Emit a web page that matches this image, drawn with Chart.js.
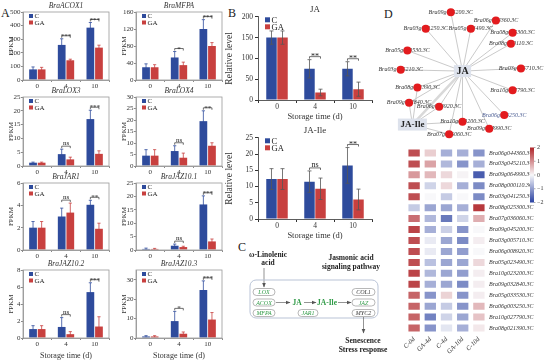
<!DOCTYPE html>
<html>
<head>
<meta charset="utf-8">
<script src="https://cdn.jsdelivr.net/npm/chart.js@4.4.1/dist/chart.umd.min.js"></script>
<style>
  html, body { margin: 0; padding: 0; background: #fff; }
  #page { position: relative; width: 550px; height: 360px; overflow: hidden; font-family: 'Liberation Serif', serif; }
  canvas, svg { position: absolute; }
  .tag { position: absolute; font-size: 12px; line-height: 12px; color: #222; }
</style>
</head>
<body>
<div id="page">
  <div class="tag" style="left:1px;top:7px">A</div>
  <div class="tag" style="left:228px;top:7px">B</div>
  <div class="tag" style="left:238px;top:241px">C</div>
  <div class="tag" style="left:384px;top:8px">D</div>

  <canvas id="acox1" style="left:7px;top:1px" width="104" height="89"></canvas>
  <canvas id="mfpa" style="left:120px;top:1px" width="104" height="89"></canvas>
  <canvas id="lox3" style="left:7px;top:86px" width="104" height="90"></canvas>
  <canvas id="lox4" style="left:120px;top:86px" width="104" height="90"></canvas>
  <canvas id="jar1" style="left:7px;top:172px" width="104" height="88"></canvas>
  <canvas id="jaz101" style="left:120px;top:172px" width="104" height="88"></canvas>
  <canvas id="jaz102" style="left:7px;top:259px" width="104" height="102"></canvas>
  <canvas id="jaz103" style="left:120px;top:259px" width="104" height="102"></canvas>

  <canvas id="ja" style="left:224px;top:0px" width="150" height="122"></canvas>
  <canvas id="jaIle" style="left:224px;top:121px" width="150" height="120"></canvas>

  <svg id="pathway" style="left:240px;top:240px" width="150" height="120" viewBox="240 240 150 120"
       font-family="'Liberation Serif', serif">
    <defs>
      <marker id="ah" markerWidth="5" markerHeight="5" refX="4.5" refY="2.5" orient="auto" markerUnits="userSpaceOnUse">
        <path d="M0,0.5 L5,2.5 L0,4.5 z" fill="#555"/>
      </marker>
    </defs>
    <text x="268" y="257" font-size="7.5" font-weight="bold" text-anchor="middle" fill="#222">ω-Linolenic</text>
    <text x="268" y="265" font-size="7.5" font-weight="bold" text-anchor="middle" fill="#222">acid</text>
    <text x="351" y="260" font-size="7.5" font-weight="bold" text-anchor="middle" fill="#222">Jasmonic acid</text>
    <text x="351" y="269" font-size="7.5" font-weight="bold" text-anchor="middle" fill="#222">signaling pathway</text>
    <line x1="264" y1="268" x2="264" y2="287" stroke="#666" stroke-width="0.7" marker-end="url(#ah)"/>
    <rect x="250" y="280" width="128" height="38" rx="6" fill="none" stroke="#b9c3d6" stroke-width="1"/>
    <g font-size="6" font-style="italic" text-anchor="middle">
      <rect x="253" y="288.5" width="22" height="7" rx="3.5" fill="#fff" stroke="#888" stroke-width="0.6"/>
      <text x="264" y="294.2" fill="#2f9a46">LOX</text>
      <rect x="253" y="299" width="22" height="7" rx="3.5" fill="#fff" stroke="#888" stroke-width="0.6"/>
      <text x="264" y="304.7" fill="#2f9a46">ACOX</text>
      <rect x="253" y="309.5" width="22" height="7" rx="3.5" fill="#fff" stroke="#888" stroke-width="0.6"/>
      <text x="264" y="315.2" fill="#2f9a46">MFPA</text>
      <rect x="298" y="309.5" width="20" height="7" rx="3.5" fill="#fff" stroke="#888" stroke-width="0.6"/>
      <text x="308" y="315.2" fill="#2f9a46">JAR1</text>
      <rect x="352" y="288.5" width="23" height="7" rx="3.5" fill="#fff" stroke="#888" stroke-width="0.6"/>
      <text x="363.5" y="294.2" fill="#333">COL1</text>
      <rect x="352" y="299" width="23" height="7" rx="3.5" fill="#fff" stroke="#888" stroke-width="0.6"/>
      <text x="363.5" y="304.7" fill="#2f9a46">JAZ</text>
      <rect x="352" y="309.5" width="23" height="7" rx="3.5" fill="#fff" stroke="#888" stroke-width="0.6"/>
      <text x="363.5" y="315.2" fill="#333">MYC2</text>
    </g>
    <line x1="276" y1="302.5" x2="290" y2="302.5" stroke="#666" stroke-width="0.7" marker-end="url(#ah)"/>
    <text x="297" y="305" font-size="7.5" font-weight="bold" text-anchor="middle" fill="#2f9a46">JA</text>
    <line x1="304" y1="302.5" x2="316" y2="302.5" stroke="#666" stroke-width="0.7" marker-end="url(#ah)"/>
    <text x="327" y="305" font-size="7.5" font-weight="bold" text-anchor="middle" fill="#2f9a46">JA-Ile</text>
    <line x1="338" y1="302.5" x2="351" y2="302.5" stroke="#666" stroke-width="0.7" marker-end="url(#ah)"/>
    <line x1="363.5" y1="317" x2="363.5" y2="333" stroke="#666" stroke-width="0.7" marker-end="url(#ah)"/>
    <text x="363" y="343" font-size="7.5" font-weight="bold" text-anchor="middle" fill="#222">Senescence</text>
    <text x="363" y="352" font-size="7.5" font-weight="bold" text-anchor="middle" fill="#222">Stress response</text>
  </svg>

  <canvas id="network" style="left:375px;top:0px" width="175" height="145"></canvas>
  <canvas id="heatmap" style="left:398px;top:140px" width="152" height="220"></canvas>
</div>

<script>
// ---------- data ----------
const storageDays = ['0', '4', '10'];

// panel A (FPKM, mean and SD)
const acox1Ticks = [0, 100, 200, 300, 400, 500];
const acox1C = [78, 258, 385];
const acox1CErr = [18, 45, 38];
const acox1GA = [78, 145, 238];
const acox1GAErr = [15, 8, 18];
const acox1Sig = ['', '***', '***'];

const mfpaTicks = [0, 40, 80, 120, 160];
const mfpaC = [30, 53, 120];
const mfpaCErr = [8, 14, 22];
const mfpaGA = [30, 35, 80];
const mfpaGAErr = [6, 7, 8];
const mfpaSig = ['', '*', '***'];

const lox3Ticks = [0, 5, 10, 15, 20, 25];
const lox3C = [1.2, 4.3, 17];
const lox3CErr = [0.2, 1.8, 3.2];
const lox3GA = [1.2, 2.4, 4.4];
const lox3GAErr = [0.2, 0.8, 1.1];
const lox3Sig = ['', 'ns', '***'];

const lox4Ticks = [0, 5, 10, 15, 20, 25, 30];
const lox4C = [4.5, 6.5, 19.5];
const lox4CErr = [2.6, 2.3, 4.5];
const lox4GA = [4.5, 3.6, 8.8];
const lox4GAErr = [2.6, 2, 1.3];
const lox4Sig = ['', 'ns', '**'];

const jar1Ticks = [0, 2, 4, 6];
const jar1C = [2, 3, 4.05];
const jar1CErr = [0.55, 0.75, 0.4];
const jar1GA = [2, 3.35, 1.9];
const jar1GAErr = [0.55, 0.85, 0.5];
const jar1Sig = ['', 'ns', '**'];

const jaz101Ticks = [0, 5, 10, 15, 20, 25];
const jaz101C = [0.4, 1.6, 17];
const jaz101CErr = [0.3, 0.6, 3.2];
const jaz101GA = [0.4, 1.1, 3.2];
const jaz101GAErr = [0.2, 0.3, 0.9];
const jaz101Sig = ['', 'ns', '***'];

const jaz102Ticks = [0, 2, 4, 6, 8];
const jaz102C = [1.05, 1.3, 5.4];
const jaz102CErr = [0.4, 1.1, 1.1];
const jaz102GA = [1.05, 0.45, 1.35];
const jaz102GAErr = [0.4, 0.3, 1.15];
const jaz102Sig = ['', 'ns', '***'];

const jaz103Ticks = [0, 5, 10, 15, 20, 25, 30, 35];
const jaz103C = [0.8, 8.7, 24.7];
const jaz103CErr = [0.4, 5, 4.7];
const jaz103GA = [0.8, 2.2, 9.5];
const jaz103GAErr = [0.4, 0.9, 3.6];
const jaz103Sig = ['', '*', '***'];

// panel B (relative level)
const jaTicks = [0, 50, 100, 150, 200];
const jaC = [150, 75, 75];
const jaCErr = [16, 22, 17];
const jaGA = [150, 18, 26];
const jaGAErr = [16, 8, 17];
const jaSig = ['', '**', '**'];

const jaIleTicks = [0, 5, 10, 15, 20, 25];
const jaIleC = [12.3, 11.5, 16.5];
const jaIleCErr = [3.2, 3.3, 5.5];
const jaIleGA = [12.3, 9.3, 6];
const jaIleGAErr = [3.2, 3.3, 3.2];
const jaIleSig = ['', 'ns', '**'];

// panel D network (layout units 0-100)
const netNames = ['Bra09g045200.3C', 'Bra06g044360.3C', 'Bra03g041250.3C', 'Bra05g023490.3C',
  'Bra08g025300.3C', 'Bra08g000110.3C', 'Bra05g033530.3C', 'Bra03g045210.3C', 'Bra03g005710.3C',
  'Bra08g021390.3C', 'Bra10g027790.3C', 'Bra09g032840.3C', 'Bra06g008920.3C', 'Bra06g003250.3C',
  'Bra10g023200.3C', 'Bra09g064990.3C', 'Bra07g036060.3C'];
const netX = [43, 70, 28, 55, 80, 79, 17, 13, 85, 23, 80, 18, 36, 75, 50, 66, 42];
const netY = [6, 12, 18, 18, 21, 29, 34, 48, 47, 61, 63, 72, 75, 81, 86, 91, 95];
const hubNames = ['JA', 'JA-Ile'];
const hubX = [50, 20];
const hubY = [49, 88];
const jaIleLinks = [9, 11, 12, 14, 16];

// panel D heatmap (row z-scores)
const hmGenes = ['Bra06g044360.3C', 'Bra03g045210.3C', 'Bra09g064990.3C', 'Bra08g000110.3C',
  'Bra03g041250.3C', 'Bra08g025300.3C', 'Bra07g036060.3C', 'Bra09g045200.3C', 'Bra03g005710.3C',
  'Bra06g008920.3C', 'Bra05g023490.3C', 'Bra10g023200.3C', 'Bra09g032840.3C', 'Bra05g033530.3C',
  'Bra06g003250.3C', 'Bra10g027790.3C', 'Bra08g021390.3C'];
const hmColumns = ['C-0d', 'GA-4d', 'C-4d', 'GA-10d', 'C-10d'];
const hmC0 = [1.6, 1.6, 0.9, 1.6, 1.6, -0.5, 1.3, 1.7, 1.6, 1.6, 1.6, 1.7, 1.7, 1.4, 1.4, 1.4, 1.4];
const hmGA4 = [0.4, 0.8, 0.6, -0.4, 0.0, -0.9, -0.7, -0.8, -0.15, -0.15, -0.6, -0.7, -0.8, -1.1, -0.9, -1.3, -1.1];
const hmC4 = [-0.8, -0.7, 0.3, 0.3, -0.5, -0.9, -1.4, -0.45, -0.9, -0.9, -0.9, -0.9, -0.9, 0.35, -0.5, -0.4, -0.2];
const hmGA10 = [-0.8, -1.1, 0.05, -0.8, 0.0, -0.8, -0.4, -1.1, -1.2, -1.0, -0.9, -1.0, -1.2, -1.1, -1.1, -0.9, -0.8];
const hmC10 = [-1.1, -0.8, -1.7, -1.2, -1.2, 1.8, 0.7, 0.0, 0.1, 0.0, 0.3, 0.1, 0.1, 0.1, 0.6, 0.5, 0.15];
const colorbarTicks = [2, 1, 0, -1, -2];

// ---------- styles ----------
const serif = "'Liberation Serif', 'Times New Roman', serif";
const cBlue = '#2e4b9c';
const gaRed = '#c8403f';
Chart.defaults.font.family = serif;
Chart.defaults.color = '#333';

// error bars drawn from the dataset's err array
const errorBars = {
  id: 'errorBars',
  afterDatasetsDraw(chart, args, opts) {
    const ctx = chart.ctx;
    const y = chart.scales.y;
    chart.data.datasets.forEach((ds, di) => {
      chart.getDatasetMeta(di).data.forEach((bar, i) => {
        const v = ds.data[i], e = ds.err[i];
        const top = y.getPixelForValue(v + e);
        const bot = y.getPixelForValue(Math.max(0, v - e));
        ctx.save();
        ctx.strokeStyle = opts.color || ds.backgroundColor;
        ctx.lineWidth = opts.width;
        ctx.beginPath();
        ctx.moveTo(bar.x, top);
        ctx.lineTo(bar.x, bot);
        ctx.moveTo(bar.x - opts.cap, top);
        ctx.lineTo(bar.x + opts.cap, top);
        if (opts.color) {
          ctx.moveTo(bar.x - opts.cap, bot);
          ctx.lineTo(bar.x + opts.cap, bot);
        }
        ctx.stroke();
        ctx.restore();
      });
    });
  }
};

// significance brackets
const sigMarks = {
  id: 'sigMarks',
  afterDatasetsDraw(chart, args, opts) {
    const ctx = chart.ctx, y = chart.scales.y;
    const [c, g] = chart.data.datasets;
    const mc = chart.getDatasetMeta(0).data, mg = chart.getDatasetMeta(1).data;
    opts.marks.forEach((s, i) => {
      if (!s) return;
      const peak = Math.max(c.data[i] + c.err[i], g.data[i] + g.err[i]);
      const ly = y.getPixelForValue(peak) - opts.gap;
      ctx.save();
      ctx.strokeStyle = '#333';
      ctx.lineWidth = 0.7;
      ctx.beginPath();
      ctx.moveTo(mc[i].x, ly + 2);
      ctx.lineTo(mc[i].x, ly);
      ctx.lineTo(mg[i].x, ly);
      ctx.lineTo(mg[i].x, ly + 2);
      ctx.stroke();
      ctx.fillStyle = '#222';
      ctx.font = opts.size + 'px ' + serif;
      ctx.textAlign = 'center';
      ctx.textBaseline = 'alphabetic';
      const mid = (mc[i].x + mg[i].x) / 2;
      ctx.fillText(s, mid, s === 'ns' ? ly - 1 : ly + opts.size * 0.3);
      ctx.restore();
    });
  }
};

// small C / GA key in the top-left of the plot
const miniLegend = {
  id: 'miniLegend',
  afterDraw(chart, args, opts) {
    const ctx = chart.ctx, a = chart.chartArea;
    chart.data.datasets.forEach((ds, i) => {
      const x = a.left + opts.dx, y = a.top + opts.dy + i * opts.row;
      ctx.save();
      ctx.fillStyle = ds.backgroundColor;
      ctx.fillRect(x, y - opts.box / 2, opts.box, opts.box);
      ctx.fillStyle = '#222';
      ctx.font = opts.size + 'px ' + serif;
      ctx.textBaseline = 'middle';
      ctx.fillText(ds.label, x + opts.box + 1.5, y + 0.5);
      ctx.restore();
    });
  }
};

// grey box round the plot (panel A)
const frame = {
  id: 'frame',
  afterDraw(chart, args, opts) {
    if (!opts.show) return;
    const ctx = chart.ctx, a = chart.chartArea;
    ctx.save();
    ctx.strokeStyle = '#9a9a9a';
    ctx.lineWidth = 0.8;
    ctx.strokeRect(a.left, a.top, a.right - a.left, a.bottom - a.top);
    ctx.restore();
  }
};

function barChart(id, title, ticks, cVals, cErr, gaVals, gaErr, sig, look) {
  const el = document.getElementById(id);
  const axisGray = look.panelA ? '#8a8a8a' : '#333';
  return new Chart(el.getContext('2d'), {
    type: 'bar',
    data: {
      labels: storageDays,
      datasets: [
        { label: 'C', data: cVals, err: cErr, backgroundColor: cBlue },
        { label: 'GA', data: gaVals, err: gaErr, backgroundColor: gaRed }
      ]
    },
    options: {
      responsive: false,
      animation: false,
      devicePixelRatio: 1,
      layout: { padding: { left: 0, right: 2, top: 0, bottom: 0 } },
      datasets: { bar: { categoryPercentage: look.cat, barPercentage: look.bar } },
      plugins: {
        legend: { display: false },
        tooltip: { enabled: false },
        title: {
          display: true,
          text: title,
          fullSize: false,
          color: '#333',
          font: { family: serif, size: look.titleSize, style: look.panelA ? 'italic' : 'normal', weight: 'normal' },
          padding: look.titlePad
        },
        errorBars: look.err,
        sigMarks: { marks: sig, gap: 3, size: look.sigSize },
        miniLegend: look.legend,
        frame: { show: look.panelA }
      },
      scales: {
        x: {
          grid: { display: true, drawOnChartArea: false, offset: true, tickLength: look.tick, color: axisGray },
          border: { display: true, color: axisGray, width: 0.8 },
          ticks: { font: { family: serif, size: look.tickSize }, color: '#333', padding: 0 },
          title: {
            display: look.xTitle,
            text: 'Storage time (d)',
            color: '#333',
            font: { family: serif, size: look.xTitleSize },
            padding: 0
          },
          afterFit: s => { s.height = look.xTitle ? look.xH2 : look.xH; }
        },
        y: {
          min: ticks[0],
          max: ticks[ticks.length - 1],
          ticks: { stepSize: ticks[1] - ticks[0], font: { family: serif, size: look.tickSize }, color: '#333', padding: look.yPad },
          grid: { display: true, drawOnChartArea: false, tickLength: look.tick, color: axisGray },
          border: { display: true, color: axisGray, width: 0.8 },
          title: {
            display: true,
            text: look.yTitle,
            color: '#333',
            font: { family: serif, size: look.yTitleSize },
            padding: 0
          },
          afterFit: s => { s.width = look.yW; }
        }
      }
    },
    plugins: [errorBars, sigMarks, miniLegend, frame]
  });
}

const lookA = {
  panelA: true, cat: 0.6, bar: 0.9, titleSize: 7.5, titlePad: { top: 1, bottom: 1 },
  tickSize: 7, tick: 2, yPad: 0.5, yW: 16, yTitle: 'FPKM', yTitleSize: 7,
  xTitle: false, xTitleSize: 8, xH: 10, xH2: 23, sigSize: 7,
  err: { width: 0.8, cap: 1.6 },
  legend: { dx: 6, dy: 4, row: 6.5, box: 4, size: 7 }
};
const lookA4 = Object.assign({}, lookA, { xTitle: true });
const lookB = {
  panelA: false, cat: 0.58, bar: 0.95, titleSize: 9, titlePad: { top: 4, bottom: 2 },
  tickSize: 7.5, tick: 3, yPad: 2, yW: 34, yTitle: 'Relative level', yTitleSize: 9.5,
  xTitle: true, xTitleSize: 8.5, xH: 22, xH2: 22, sigSize: 8,
  err: { width: 0.8, cap: 2, color: '#555' },
  legend: { dx: 7, dy: 3, row: 7, box: 5, size: 8.5 }
};

barChart('acox1', 'BraACOX1', acox1Ticks, acox1C, acox1CErr, acox1GA, acox1GAErr, acox1Sig, lookA);
barChart('mfpa', 'BraMFPA', mfpaTicks, mfpaC, mfpaCErr, mfpaGA, mfpaGAErr, mfpaSig, lookA);
barChart('lox3', 'BraLOX3', lox3Ticks, lox3C, lox3CErr, lox3GA, lox3GAErr, lox3Sig, lookA);
barChart('lox4', 'BraLOX4', lox4Ticks, lox4C, lox4CErr, lox4GA, lox4GAErr, lox4Sig, lookA);
barChart('jar1', 'BraJAR1', jar1Ticks, jar1C, jar1CErr, jar1GA, jar1GAErr, jar1Sig, lookA);
barChart('jaz101', 'BraJAZ10.1', jaz101Ticks, jaz101C, jaz101CErr, jaz101GA, jaz101GAErr, jaz101Sig, lookA);
barChart('jaz102', 'BraJAZ10.2', jaz102Ticks, jaz102C, jaz102CErr, jaz102GA, jaz102GAErr, jaz102Sig, lookA4);
barChart('jaz103', 'BraJAZ10.3', jaz103Ticks, jaz103C, jaz103CErr, jaz103GA, jaz103GAErr, jaz103Sig, lookA4);
barChart('ja', 'JA', jaTicks, jaC, jaCErr, jaGA, jaGAErr, jaSig, lookB);
barChart('jaIle', 'JA-Ile', jaIleTicks, jaIleC, jaIleCErr, jaIleGA, jaIleGAErr, jaIleSig, lookB);

// ---------- network ----------
const netDraw = {
  id: 'netDraw',
  beforeDatasetsDraw(chart) {
    const ctx = chart.ctx, sx = chart.scales.x, sy = chart.scales.y;
    const px = v => sx.getPixelForValue(v), py = v => sy.getPixelForValue(v);
    const jx = px(hubX[0]), jy = py(hubY[0]), ix = px(hubX[1]), iy = py(hubY[1]);
    ctx.save();
    ctx.strokeStyle = '#d9d9d9';
    ctx.lineWidth = 2.5;
    ctx.beginPath();
    ctx.moveTo(jx, jy);
    ctx.lineTo(ix, iy);
    ctx.stroke();
    ctx.strokeStyle = '#c4c4c4';
    ctx.lineWidth = 0.9;
    netX.forEach((x, i) => {
      ctx.beginPath();
      ctx.moveTo(jx, jy);
      ctx.lineTo(px(x), py(netY[i]));
      ctx.stroke();
    });
    jaIleLinks.forEach(i => {
      ctx.beginPath();
      ctx.moveTo(ix, iy);
      ctx.lineTo(px(netX[i]), py(netY[i]));
      ctx.stroke();
    });
    ctx.font = 'italic 6px ' + serif;
    ctx.textAlign = 'center';
    ctx.textBaseline = 'middle';
    netNames.forEach((n, i) => {
      ctx.fillStyle = n === 'Bra06g003250.3C' ? '#4b5d93' : '#333';
      ctx.fillText(n, px(netX[i]), py(netY[i]));
    });
    ctx.restore();
  },
  afterDatasetsDraw(chart) {
    const ctx = chart.ctx, sx = chart.scales.x, sy = chart.scales.y;
    ctx.save();
    ctx.textAlign = 'center';
    ctx.textBaseline = 'middle';
    hubNames.forEach((n, i) => {
      const x = sx.getPixelForValue(hubX[i]), y = sy.getPixelForValue(hubY[i]);
      ctx.font = 'bold ' + (i ? 9 : 10) + 'px ' + serif;
      const w = ctx.measureText(n).width + 5;
      ctx.fillStyle = '#dde2ec';
      ctx.fillRect(x - w / 2, y - 6, w, 12);
      ctx.fillStyle = '#222';
      ctx.fillText(n, x, y + 0.5);
    });
    ctx.restore();
  }
};

new Chart(document.getElementById('network').getContext('2d'), {
  type: 'scatter',
  data: {
    datasets: [{
      data: netX.map((x, i) => ({ x: x, y: netY[i] })),
      backgroundColor: '#e31b1e',
      borderWidth: 0,
      pointRadius: 4
    }]
  },
  options: {
    responsive: false,
    animation: false,
    devicePixelRatio: 1,
    layout: { padding: 0 },
    plugins: { legend: { display: false }, tooltip: { enabled: false } },
    scales: {
      x: { display: false, min: 0, max: 100 },
      y: { display: false, min: 0, max: 100, reverse: true }
    }
  },
  plugins: [netDraw]
});

// ---------- heatmap ----------
function heatColor(v) {
  const t = Math.min(Math.abs(v) / 2, 1);
  const end = v >= 0 ? [176, 36, 40] : [42, 66, 162];
  const mid = [248, 248, 250];
  const c = mid.map((m, k) => Math.round(m + (end[k] - m) * t));
  return 'rgb(' + c.join(',') + ')';
}

const colorBar = {
  id: 'colorBar',
  afterDraw(chart) {
    const ctx = chart.ctx, a = chart.chartArea;
    const left = a.right + 43, top = a.top, h = 55, w = 4;
    const g = ctx.createLinearGradient(0, top, 0, top + h);
    g.addColorStop(0, heatColor(2));
    g.addColorStop(0.5, heatColor(0));
    g.addColorStop(1, heatColor(-2));
    ctx.save();
    ctx.fillStyle = g;
    ctx.fillRect(left, top, w, h);
    ctx.font = '6px ' + serif;
    ctx.fillStyle = '#333';
    ctx.strokeStyle = '#555';
    ctx.lineWidth = 0.5;
    ctx.textBaseline = 'middle';
    colorbarTicks.forEach(t => {
      const y = top + (colorbarTicks[0] - t) / (colorbarTicks[0] - colorbarTicks[colorbarTicks.length - 1]) * h;
      ctx.beginPath();
      ctx.moveTo(left + w, y);
      ctx.lineTo(left + w + 1.5, y);
      ctx.stroke();
      ctx.fillText(t < 0 ? '\u2212' + Math.abs(t) : String(t), left + w + 3, y);
    });
    ctx.restore();
  }
};

const hmValues = [hmC0, hmGA4, hmC4, hmGA10, hmC10];
new Chart(document.getElementById('heatmap').getContext('2d'), {
  type: 'bar',
  data: {
    labels: hmGenes,
    datasets: hmValues.map((vals, c) => ({
      label: hmColumns[c],
      data: vals.map(() => [c + 0.15, c + 0.85]),
      backgroundColor: vals.map(heatColor),
      grouped: false,
      categoryPercentage: 0.64,
      barPercentage: 1
    }))
  },
  options: {
    indexAxis: 'y',
    responsive: false,
    animation: false,
    devicePixelRatio: 1,
    layout: { padding: { left: 8, top: 7.5, right: 0, bottom: 0 }, autoPadding: false },
    plugins: { legend: { display: false }, tooltip: { enabled: false } },
    scales: {
      x: {
        type: 'linear',
        min: 0,
        max: hmColumns.length,
        grid: { display: false, drawTicks: false },
        border: { display: false },
        afterBuildTicks: s => { s.ticks = hmColumns.map((_, c) => ({ value: c + 0.5 })); },
        ticks: {
          autoSkip: false,
          minRotation: 45,
          maxRotation: 45,
          padding: 2,
          color: '#333',
          font: { family: serif, size: 6.5, style: 'italic' },
          callback: (v, i) => hmColumns[i]
        },
        afterFit: s => { s.height = 26.5; }
      },
      y: {
        position: 'right',
        grid: { display: false, drawTicks: false },
        border: { display: false },
        ticks: { padding: 2, color: '#333', font: { family: serif, size: 6, style: 'italic' } },
        afterFit: s => { s.width = 63; }
      }
    }
  },
  plugins: [colorBar]
});
</script>
</body>
</html>
